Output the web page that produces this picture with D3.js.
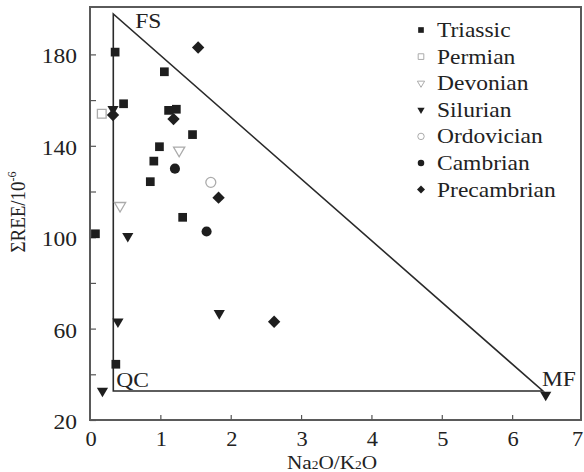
<!DOCTYPE html>
<html><head><meta charset="utf-8">
<script src="https://cdn.jsdelivr.net/npm/d3@7"></script>
<style>body{margin:0;background:#fff}svg{display:block}text{font-family:"Liberation Serif","Times New Roman",serif;fill:#222}</style>
</head><body><svg id="c" width="584" height="472"></svg>
<script>
// ---- data ----
const triassicX = [0.35, 1.05, 0.47, 1.11, 1.22, 1.45, 0.98, 0.90, 0.85, 1.31, 0.07, 0.36];
const triassicY = [181, 172.4, 158.4, 155.5, 156, 144.9, 139.6, 133.3, 124.3, 108.7, 101.5, 44.4];
const permianX = [0.16];
const permianY = [154];
const devonianX = [1.26, 0.42];
const devonianY = [138, 113.8];
const silurianX = [0.32, 0.53, 0.39, 1.83, 0.17, 6.47];
const silurianY = [156, 100.5, 63, 66.7, 32.7, 31];
const ordovicianX = [1.71];
const ordovicianY = [124];
const cambrianX = [1.20, 1.65];
const cambrianY = [130, 102.5];
const precambrianX = [1.53, 0.32, 1.18, 1.82, 2.61];
const precambrianY = [183, 153.5, 151.7, 117.3, 63];
const seriesNames = ["Triassic","Permian","Devonian","Silurian","Ordovician","Cambrian","Precambrian"];
const triangleX = [0.324, 0.324, 6.43];
const triangleY = [32.7, 197.7, 32.7];
const triangleLabels = ["QC","FS","MF"];
const xTicks = [0,1,2,3,4,5,6,7];
const yTicks = [20,40,60,80,100,120,140,160,180];
const yLabelTicks = [20,60,100,140,180];

// ---- scales ----
const svg = d3.select("#c");
const x = d3.scaleLinear().domain([0,7]).range([90.5,583]);
const y = d3.scaleLinear().domain([20,200]).range([420,8.7]);
const pL = 90, pR = 581, pT = 7, pB = 420;
const SX = 1.12, FS = 21;

function stretch(sel){
  sel.each(function(){
    const t = d3.select(this);
    const tx = +t.attr("x")||0, ty = +t.attr("y")||0;
    t.attr("x",0).attr("y",0).attr("transform",`translate(${tx},${ty}) scale(${SX},1)`);
  });
}

const dark = "#1e1e1e", gray = "#ababab";
const series = [
  {xs:triassicX, ys:triassicY, type:"square", fill:dark, stroke:"none", size:76},
  {xs:permianX, ys:permianY, type:"square", fill:"none", stroke:gray, size:76},
  {xs:devonianX, ys:devonianY, type:"tri", fill:"none", stroke:gray, size:95},
  {xs:silurianX, ys:silurianY, type:"tri", fill:dark, stroke:"none", size:95},
  {xs:ordovicianX, ys:ordovicianY, type:"circle", fill:"none", stroke:gray, size:78},
  {xs:cambrianX, ys:cambrianY, type:"circle", fill:dark, stroke:"none", size:80},
  {xs:precambrianX, ys:precambrianY, type:"diamond", fill:dark, stroke:"none", size:68}
].map((s,i)=>Object.assign(s,{name:seriesNames[i]}));
function shapePath(type, s){
  if(type==="square"){const h=Math.sqrt(s)/2;return `M${-h},${-h}H${h}V${h}H${-h}Z`;}
  if(type==="circle"){return d3.symbol(d3.symbolCircle,s)();}
  if(type==="tri"){const w=Math.sqrt(s)*1.15,h=w*0.85;return `M${-w/2},${-h/3}L${w/2},${-h/3}L0,${2*h/3}Z`;}
  if(type==="diamond"){const d=Math.sqrt(s)*0.75;return `M0,${-d}L${d},0L0,${d}L${-d},0Z`;}
}

// ---- frame ----
svg.append("rect").attr("x",pL).attr("y",pT).attr("width",pR-pL).attr("height",pB-pT)
  .attr("fill","none").attr("stroke","#5a5a5a").attr("stroke-width",2);

// ---- axes ----
const yAxis = d3.axisLeft(y).tickValues(yTicks).tickSize(-6).tickPadding(13)
  .tickFormat(d => yLabelTicks.includes(d) ? d : "");
const gy = svg.append("g").attr("transform",`translate(${pL},0)`).call(yAxis);
gy.select(".domain").remove();
gy.selectAll(".tick line").attr("stroke","#555").attr("stroke-width",1.2);
gy.selectAll(".tick text").attr("font-size",FS).attr("font-family","Liberation Serif").attr("fill","#222").attr("dy","0.4em");
stretch(gy.selectAll(".tick text"));

const xAxis = d3.axisBottom(x).tickValues(xTicks).tickSize(0).tickPadding(12).tickFormat(d=>d);
const gx = svg.append("g").attr("transform",`translate(0,${pB})`).call(xAxis);
gx.select(".domain").remove();
gx.selectAll(".tick text").attr("font-size",20).attr("font-family","Liberation Serif").attr("fill","#222");
gx.selectAll(".tick text").filter(d=>d===7).attr("x",-6);
stretch(gx.selectAll(".tick text"));
svg.append("g").selectAll("line").data(xTicks.filter(d=>d>0&&d<7)).join("line")
  .attr("x1",d=>x(d)).attr("x2",d=>x(d)).attr("y1",pB).attr("y2",pB-5)
  .attr("stroke","#555").attr("stroke-width",1.2);

// axis titles
const xt = svg.append("text").attr("x",332).attr("y",469).attr("text-anchor","middle").attr("font-size",19);
xt.append("tspan").text("Na");
xt.append("tspan").attr("font-size",12).text("2");
xt.append("tspan").text("O/K");
xt.append("tspan").attr("font-size",12).text("2");
xt.append("tspan").text("O");
stretch(xt);
const yt = svg.append("text").attr("transform",`translate(25,212) scale(${SX},1) rotate(-90)`).attr("text-anchor","middle").attr("font-size",19);
yt.append("tspan").text("\u03A3REE/10");
yt.append("tspan").attr("font-size",12).attr("dy",-8).text("-6");

// ---- triangle ----
const tri = triangleX.map((d,i)=>[x(d),y(triangleY[i])]);
svg.append("path").attr("d", d3.line()(tri)+"Z").attr("fill","none").attr("stroke","#2a2a2a").attr("stroke-width",1.6);
const lab = svg.append("g").attr("font-size",FS);
lab.append("text").attr("x",x(triangleX[0])+3).attr("y",y(triangleY[0])-4).text(triangleLabels[0]);
lab.append("text").attr("x",x(triangleX[1])+22).attr("y",28).text(triangleLabels[1]);
lab.append("text").attr("x",x(triangleX[2])-1).attr("y",y(triangleY[2])-5).text(triangleLabels[2]);
stretch(lab.selectAll("text"));

// ---- points ----
series.forEach(s=>{
  svg.append("g").selectAll("path").data(s.xs.map((d,i)=>[d,s.ys[i]])).join("path")
    .attr("transform",d=>`translate(${x(d[0])},${y(d[1])})`)
    .attr("d",shapePath(s.type,s.size))
    .attr("fill",s.fill).attr("stroke",s.stroke).attr("stroke-width",1.3);
});

// ---- legend ----
const lg = svg.append("g");
series.forEach((s,i)=>{
  const cy = 30 + i*26.6;
  lg.append("path").attr("transform",`translate(421,${cy})`).attr("d",shapePath(s.type,s.size*0.42))
    .attr("fill",s.fill).attr("stroke",s.stroke).attr("stroke-width",1);
  lg.append("text").attr("x",437).attr("y",cy+7).attr("font-size",FS).text(s.name);
});
stretch(lg.selectAll("text"));
</script></body></html>
